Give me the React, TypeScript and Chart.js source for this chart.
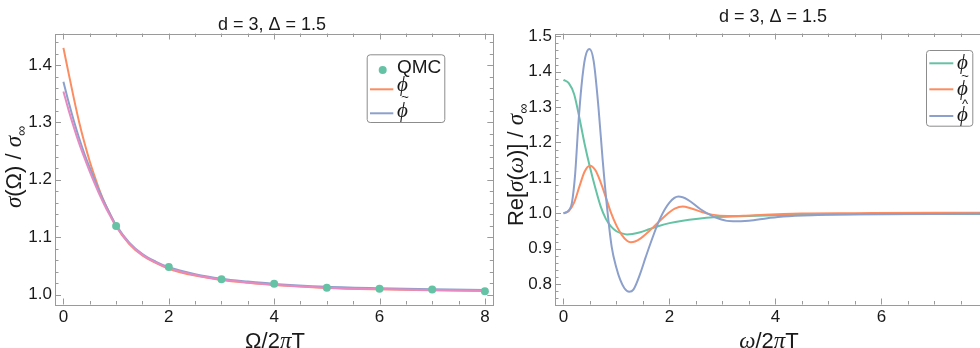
import { useEffect, useRef } from "react";
import { Chart, registerables } from "chart.js";

Chart.register(...registerables);

// ---------- Euclidean (Matsubara) conductivity: sigma(Omega)/sigma_inf ----------
const qmcOmega = [1, 2, 3, 4, 5, 6, 7, 8];
const qmcSigma = [1.1195, 1.048, 1.0266, 1.0186, 1.012, 1.0099, 1.0087, 1.0058];

const euclidOmega = [0, 0.1, 0.2, 0.3, 0.4, 0.5, 0.6, 0.7, 0.8, 0.9, 1.0, 1.25, 1.5, 1.75, 2, 2.5, 3, 3.5, 4, 5, 6, 7, 8];
const euclidPhi = [1.43, 1.385, 1.341, 1.3, 1.264, 1.232, 1.204, 1.178, 1.156, 1.137, 1.119, 1.088, 1.068, 1.055, 1.045, 1.033, 1.0255, 1.0205, 1.0165, 1.0115, 1.009, 1.0075, 1.006];
const euclidPhiTilde = [1.371, 1.335, 1.302, 1.272, 1.245, 1.221, 1.198, 1.176, 1.156, 1.138, 1.121, 1.0905, 1.0705, 1.0575, 1.0475, 1.0355, 1.0275, 1.0225, 1.0185, 1.0135, 1.0108, 1.0092, 1.0078];
const euclidPhiHat = [1.354, 1.321, 1.291, 1.263, 1.238, 1.214, 1.192, 1.171, 1.152, 1.135, 1.119, 1.089, 1.069, 1.056, 1.046, 1.034, 1.026, 1.021, 1.017, 1.012, 1.0095, 1.008, 1.0065];

const leftXTicks = [0, 2, 4, 6, 8];
const leftYTicks = [1.0, 1.1, 1.2, 1.3, 1.4];

// ---------- Real-frequency conductivity: Re[sigma(omega)]/sigma_inf ----------
const realOmegaPhi = [0, 0.1, 0.2, 0.3, 0.4, 0.5, 0.6, 0.7, 0.8, 0.9, 1.0, 1.1, 1.2, 1.3, 1.45, 1.6, 1.8, 2.0, 2.25, 2.5, 2.9, 3.5, 4.2, 5.5, 7, 8.2];
const realPhi = [1.377, 1.368, 1.337, 1.27, 1.195, 1.13, 1.072, 1.02, 0.984, 0.962, 0.949, 0.943, 0.94, 0.941, 0.946, 0.954, 0.964, 0.972, 0.979, 0.984, 0.989, 0.992, 0.995, 0.997, 0.998, 0.998];

const realOmegaPhiTilde = [0, 0.1, 0.2, 0.3, 0.4, 0.5, 0.6, 0.7, 0.8, 0.9, 1.0, 1.1, 1.2, 1.27, 1.35, 1.45, 1.6, 1.8, 2.0, 2.1, 2.25, 2.4, 2.6, 2.8, 3.1, 3.4, 3.8, 4.5, 5.5, 7, 8.2];
const realPhiTilde = [1.0, 1.006, 1.03, 1.075, 1.118, 1.134, 1.122, 1.088, 1.045, 1.0, 0.965, 0.939, 0.922, 0.918, 0.92, 0.928, 0.947, 0.976, 1.003, 1.013, 1.019, 1.014, 1.004, 0.996, 0.992, 0.993, 0.996, 0.999, 1.0, 1.001, 1.001];

const realOmegaPhiHat = [0, 0.06, 0.12, 0.16, 0.22, 0.28, 0.34, 0.41, 0.49, 0.57, 0.66, 0.74, 0.82, 0.91, 1.0, 1.07, 1.15, 1.24, 1.32, 1.45, 1.55, 1.65, 1.82, 2.0, 2.17, 2.35, 2.58, 2.9, 3.2, 3.5, 3.85, 4.15, 4.8, 5.6, 7, 8.2];
const realPhiHat = [1.0, 1.003, 1.012, 1.03, 1.11, 1.25, 1.36, 1.44, 1.464, 1.43, 1.3, 1.15, 1.02, 0.905, 0.845, 0.812, 0.788, 0.778, 0.784, 0.83, 0.875, 0.918, 0.984, 1.03, 1.047, 1.038, 1.012, 0.986, 0.977, 0.979, 0.986, 0.991, 0.995, 0.997, 0.998, 0.999];

const rightXTicks = [0, 2, 4, 6, 8];
const rightYTicks = [0.8, 0.9, 1.0, 1.1, 1.2, 1.3, 1.4, 1.5];

const GREEN = "#66c2a5";
const ORANGE = "#fc8d62";
const BLUE = "#8da0cb";
const PINK = "#e78ac3";

const SANS = "'Liberation Sans', Arial, sans-serif";
const SERIF = "'Liberation Serif', 'DejaVu Serif', serif";
const FRAME = "#9a9a9a";
const TEXT = "#1a1a1a";

type Seg = { t: string; font: string; dy?: number };

function drawRich(ctx: CanvasRenderingContext2D, segs: Seg[], cx: number, by: number, angle = 0) {
  ctx.save();
  ctx.translate(cx, by);
  ctx.rotate(angle);
  ctx.textAlign = "left";
  ctx.textBaseline = "alphabetic";
  ctx.fillStyle = TEXT;
  let total = 0;
  const widths = segs.map((s) => {
    ctx.font = s.font;
    const w = ctx.measureText(s.t).width;
    total += w;
    return w;
  });
  let x = -total / 2;
  segs.forEach((s, i) => {
    ctx.font = s.font;
    ctx.fillText(s.t, x, s.dy || 0);
    x += widths[i];
  });
  ctx.restore();
}

type LegendLabel = { t: string; font: string; accent?: "~" | "^" };
type LegendItem = { kind: "dot" | "line"; color: string; sx: number; sy: number; sx2?: number; label: LegendLabel; lx: number; ly: number };

type PanelOpts = {
  xMajor: number[];
  yMajor: number[];
  xMinorStep: number;
  yMinorStep: number;
  title: { x: number; y: number };
  xTitle: { segs: Seg[]; x: number; y: number };
  yTitle: { segs: Seg[]; x: number; y: number };
  legendBox: { x: number; y: number; w: number; h: number };
  legend: LegendItem[];
};

function panelPlugin(o: PanelOpts) {
  return {
    id: "panelDecor",
    afterDatasetsDraw(chart: any) {
      const ctx: CanvasRenderingContext2D = chart.ctx;
      const { left, right, top, bottom } = chart.chartArea;
      const xs = chart.scales.x;
      const ys = chart.scales.y;
      ctx.save();
      // frame
      ctx.strokeStyle = FRAME;
      ctx.lineWidth = 1;
      ctx.strokeRect(Math.round(left) + 0.5, Math.round(top) + 0.5, Math.round(right - left), Math.round(bottom - top));
      // inward ticks on all four sides
      const drawX = (v: number, len: number) => {
        const p = Math.round(xs.getPixelForValue(v)) + 0.5;
        if (p < left || p > right) return;
        ctx.beginPath();
        ctx.moveTo(p, bottom);
        ctx.lineTo(p, bottom - len);
        ctx.moveTo(p, top);
        ctx.lineTo(p, top + len);
        ctx.stroke();
      };
      const drawY = (v: number, len: number) => {
        const p = Math.round(ys.getPixelForValue(v)) + 0.5;
        if (p < top || p > bottom) return;
        ctx.beginPath();
        ctx.moveTo(left, p);
        ctx.lineTo(left + len, p);
        ctx.moveTo(right, p);
        ctx.lineTo(right - len, p);
        ctx.stroke();
      };
      for (let i = Math.ceil(xs.min / o.xMinorStep); i * o.xMinorStep <= xs.max; i++) {
        const v = i * o.xMinorStep;
        const major = o.xMajor.some((m) => Math.abs(m - v) < 1e-9);
        drawX(v, major ? 6 : 3.5);
      }
      for (let i = Math.ceil(ys.min / o.yMinorStep - 1e-9); i * o.yMinorStep <= ys.max + 1e-9; i++) {
        const v = i * o.yMinorStep;
        const major = o.yMajor.some((m) => Math.abs(m - v) < 1e-9);
        drawY(v, major ? 6 : 3.5);
      }
      // titles
      drawRich(ctx, [{ t: "d = 3, \u0394 = 1.5", font: `18px ${SANS}` }], o.title.x, o.title.y);
      drawRich(ctx, o.xTitle.segs, o.xTitle.x, o.xTitle.y);
      drawRich(ctx, o.yTitle.segs, o.yTitle.x, o.yTitle.y, -Math.PI / 2);
      // legend
      const b = o.legendBox;
      ctx.beginPath();
      ctx.roundRect(b.x + 0.5, b.y + 0.5, b.w, b.h, 3);
      ctx.fillStyle = "#ffffff";
      ctx.fill();
      ctx.strokeStyle = "#8c8c8c";
      ctx.lineWidth = 1;
      ctx.stroke();
      o.legend.forEach((it) => {
        if (it.kind === "dot") {
          ctx.beginPath();
          ctx.arc(it.sx, it.sy, 4, 0, Math.PI * 2);
          ctx.fillStyle = it.color;
          ctx.fill();
        } else {
          ctx.beginPath();
          ctx.moveTo(it.sx, it.sy);
          ctx.lineTo(it.sx2 as number, it.sy);
          ctx.strokeStyle = it.color;
          ctx.lineWidth = 2;
          ctx.stroke();
        }
        ctx.save();
        ctx.fillStyle = TEXT;
        ctx.textAlign = "left";
        ctx.textBaseline = "alphabetic";
        ctx.font = it.label.font;
        ctx.fillText(it.label.t, it.lx, it.ly);
        if (it.label.accent) {
          const w = ctx.measureText(it.label.t).width;
          ctx.font = `13px ${SANS}`;
          ctx.textAlign = "center";
          const dy = it.label.accent === "~" ? -15.5 : -12.5;
          ctx.fillText(it.label.accent, it.lx + w / 2 + 2.5, it.ly + dy);
        }
        ctx.restore();
      });
      ctx.restore();
    },
  };
}

const gFont = `italic 23px ${SERIF}`;
const sFont = `22px ${SANS}`;
const subFont = `14px ${SANS}`;
const legFont = `italic 21px ${SERIF}`;
const phi = "\u03D5";

function lineDs(label: string, xs: number[], ys: number[], color: string, order: number) {
  return {
    label,
    data: xs.map((x, i) => ({ x, y: ys[i] })),
    borderColor: color,
    backgroundColor: color,
    borderWidth: 2,
    pointRadius: 0,
    showLine: true,
    fill: false,
    cubicInterpolationMode: "monotone" as const,
    order,
  };
}

function scales(xMin: number, xMax: number, yMin: number, yMax: number, xt: number[], yt: number[], yWidth: number, xHeight: number) {
  return {
    x: {
      type: "linear" as const,
      min: xMin,
      max: xMax,
      afterBuildTicks: (s: any) => {
        s.ticks = xt.map((v) => ({ value: v }));
      },
      afterFit: (s: any) => {
        s.height = xHeight;
      },
      grid: { display: false, drawTicks: false },
      border: { display: false },
      ticks: {
        padding: 3,
        color: TEXT,
        font: { family: SANS, size: 17 },
        maxRotation: 0,
        autoSkip: false,
        callback: (v: any) => String(v),
      },
    },
    y: {
      type: "linear" as const,
      min: yMin,
      max: yMax,
      afterBuildTicks: (s: any) => {
        s.ticks = yt.map((v) => ({ value: v }));
      },
      afterFit: (s: any) => {
        s.width = yWidth;
      },
      grid: { display: false, drawTicks: false },
      border: { display: false },
      ticks: {
        padding: 3,
        color: TEXT,
        font: { family: SANS, size: 17 },
        autoSkip: false,
        callback: (v: any) => Number(v).toFixed(1),
      },
    },
  };
}

function leftConfig(): any {
  return {
    type: "scatter",
    data: {
      datasets: [
        {
          label: "QMC",
          data: qmcOmega.map((x, i) => ({ x, y: qmcSigma[i] })),
          backgroundColor: GREEN,
          borderColor: GREEN,
          pointRadius: 4,
          pointBorderWidth: 0,
          showLine: false,
          order: 0,
        },
        lineDs("phi", euclidOmega, euclidPhi, ORANGE, 3),
        lineDs("phiTilde", euclidOmega, euclidPhiTilde, BLUE, 2),
        lineDs("phiHat", euclidOmega, euclidPhiHat, PINK, 1),
      ],
    },
    options: {
      animation: false,
      responsive: false,
      events: [],
      layout: { padding: { left: 0, top: 33.5, right: 6.7, bottom: 0 } },
      plugins: { legend: { display: false }, tooltip: { enabled: false }, title: { display: false } },
      scales: scales(-0.16, 8.16, 0.9826, 1.455, leftXTicks, leftYTicks, 55, 43.5),
    },
    plugins: [
      panelPlugin({
        xMajor: leftXTicks,
        yMajor: leftYTicks,
        xMinorStep: 0.5,
        yMinorStep: 0.02,
        title: { x: 272, y: 30 },
        xTitle: {
          segs: [
            { t: "\u03A9/2", font: sFont },
            { t: "\u03C0", font: gFont },
            { t: "T", font: sFont },
          ],
          x: 275,
          y: 348,
        },
        yTitle: {
          segs: [
            { t: "\u03C3", font: gFont },
            { t: "(\u03A9) / ", font: sFont },
            { t: "\u03C3", font: gFont },
            { t: "\u221E", font: subFont, dy: 5 },
          ],
          x: 21,
          y: 167,
        },
        legendBox: { x: 366.7, y: 54.3, w: 77.6, h: 67.7 },
        legend: [
          { kind: "dot", color: GREEN, sx: 382.7, sy: 70, label: { t: "QMC", font: `19px ${SANS}` }, lx: 397, ly: 72.5 },
          { kind: "line", color: ORANGE, sx: 370, sx2: 393.3, sy: 89.3, label: { t: phi, font: legFont }, lx: 397, ly: 91 },
          { kind: "line", color: BLUE, sx: 370, sx2: 393.3, sy: 113.3, label: { t: phi, font: legFont, accent: "~" }, lx: 397, ly: 116.5 },
        ],
      }),
    ],
  };
}

function rightConfig(): any {
  return {
    type: "scatter",
    data: {
      datasets: [
        lineDs("phi", realOmegaPhi, realPhi, GREEN, 3),
        lineDs("phiTilde", realOmegaPhiTilde, realPhiTilde, ORANGE, 2),
        lineDs("phiHat", realOmegaPhiHat, realPhiHat, BLUE, 1),
      ],
    },
    options: {
      animation: false,
      responsive: false,
      events: [],
      layout: { padding: { left: 0, top: 33.5, right: 14.2, bottom: 0 } },
      plugins: { legend: { display: false }, tooltip: { enabled: false }, title: { display: false } },
      scales: scales(-0.16, 8.16, 0.742, 1.508, rightXTicks, rightYTicks, 65, 43.5),
    },
    plugins: [
      panelPlugin({
        xMajor: rightXTicks,
        yMajor: rightYTicks,
        xMinorStep: 0.5,
        yMinorStep: 0.02,
        title: { x: 283, y: 22 },
        xTitle: {
          segs: [
            { t: "\u03C9", font: gFont },
            { t: "/2", font: sFont },
            { t: "\u03C0", font: gFont },
            { t: "T", font: sFont },
          ],
          x: 279,
          y: 348,
        },
        yTitle: {
          segs: [
            { t: "Re[", font: sFont },
            { t: "\u03C3", font: gFont },
            { t: "(", font: sFont },
            { t: "\u03C9", font: gFont },
            { t: ")] / ", font: sFont },
            { t: "\u03C3", font: gFont },
            { t: "\u221E", font: subFont, dy: 5 },
          ],
          x: 33,
          y: 165,
        },
        legendBox: { x: 436, y: 50, w: 46.3, h: 75.7 },
        legend: [
          { kind: "line", color: GREEN, sx: 439.3, sx2: 463.3, sy: 63.3, label: { t: phi, font: legFont }, lx: 467, ly: 68.5 },
          { kind: "line", color: ORANGE, sx: 439.3, sx2: 463.3, sy: 89.3, label: { t: phi, font: legFont, accent: "~" }, lx: 467, ly: 95 },
          { kind: "line", color: BLUE, sx: 439.3, sx2: 463.3, sy: 116, label: { t: phi, font: legFont, accent: "^" }, lx: 467, ly: 120.5 },
        ],
      }),
    ],
  };
}

export default function App() {
  const leftRef = useRef<HTMLCanvasElement>(null);
  const rightRef = useRef<HTMLCanvasElement>(null);

  useEffect(() => {
    if (!leftRef.current || !rightRef.current) return;
    const a = new Chart(leftRef.current, leftConfig());
    const b = new Chart(rightRef.current, rightConfig());
    return () => {
      a.destroy();
      b.destroy();
    };
  }, []);

  return (
    <div style={{ position: "fixed", left: 0, top: 0, width: 980, height: 348, overflow: "hidden", background: "#ffffff" }}>
      <canvas ref={leftRef} width={500} height={348} style={{ position: "absolute", left: 0, top: 0 }} />
      <canvas ref={rightRef} width={520} height={348} style={{ position: "absolute", left: 490, top: 0 }} />
    </div>
  );
}
